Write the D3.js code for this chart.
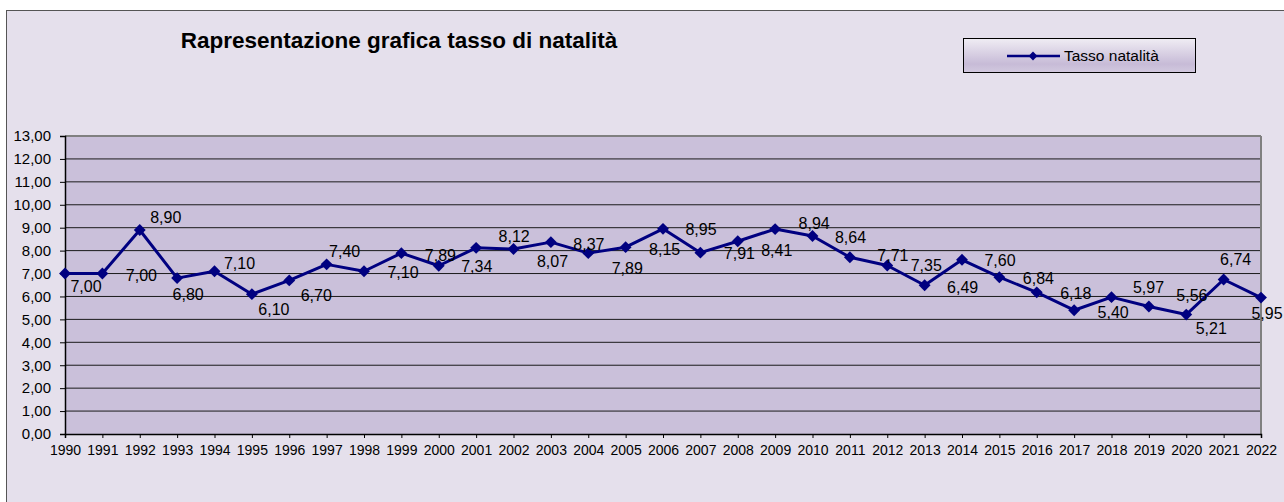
<!DOCTYPE html>
<html>
<head>
<meta charset="utf-8">
<script src="https://cdn.jsdelivr.net/npm/d3@7"></script>
<style>
  body { margin: 0; background: #ffffff; }
  text { font-family: "Liberation Sans", Arial, sans-serif; fill: #000; }
</style>
</head>
<body>
<div id="chart"></div>
<script>
// Data
var years = [1990, 1991, 1992, 1993, 1994, 1995, 1996, 1997, 1998, 1999, 2000,
             2001, 2002, 2003, 2004, 2005, 2006, 2007, 2008, 2009, 2010, 2011,
             2012, 2013, 2014, 2015, 2016, 2017, 2018, 2019, 2020, 2021, 2022];
var tasso = [7.00, 7.00, 8.90, 6.80, 7.10, 6.10, 6.70, 7.40, 7.10, 7.89, 7.34,
             8.12, 8.07, 8.37, 7.89, 8.15, 8.95, 7.91, 8.41, 8.94, 8.64, 7.71,
             7.35, 6.49, 7.60, 6.84, 6.18, 5.40, 5.97, 5.56, 5.21, 6.74, 5.95];
var yTicks = [0, 1, 2, 3, 4, 5, 6, 7, 8, 9, 10, 11, 12, 13];
var seriesName = "Tasso natalità";
var title = "Rapresentazione grafica tasso di natalità";

// Data label offsets (labels were moved by hand in the original sheet)
var labelOffsets = [[21, 13], [39, 2], [26, -13], [11, 16], [25, -8], [22, 15], [27, 15],
                    [18, -13], [39, 1], [39, 2], [38, 1], [38, -11], [39, 12], [38, 2],
                    [39, 15], [39, 2], [38, 1], [39, 1], [39, 9], [39, -6], [38, 1],
                    [43, -2], [39, 0], [38, 2], [38, 1], [39, 1], [39, 1], [39, 2],
                    [37, -10], [43, -11], [25, 14], [12, -20], [6, 16]];

var data = years.map((y, i) => ({ year: y, value: tasso[i], off: labelOffsets[i] }));

// Size
var svgWidth = 1284;
var svgHeight = 502;

var plot = { left: 65, right: 1261, top: 136, bottom: 434 };

var svg = d3.select("#chart")
    .append("svg")
    .attr("width", svgWidth)
    .attr("height", svgHeight);

var defs = svg.append("defs");
var grad = defs.append("linearGradient")
    .attr("id", "legendGrad")
    .attr("x1", 0).attr("y1", 0).attr("x2", 0).attr("y2", 1);
grad.append("stop").attr("offset", "0").attr("stop-color", "#f0edf4");
grad.append("stop").attr("offset", "0.75").attr("stop-color", "#c7bbd7");
grad.append("stop").attr("offset", "1").attr("stop-color", "#d2c9df");

// Chart area
svg.append("rect")
    .attr("x", 6.5).attr("y", 10.5)
    .attr("width", svgWidth + 10).attr("height", svgHeight + 10)
    .attr("fill", "#e5e0ec")
    .attr("stroke", "#555555")
    .attr("stroke-width", 1);

// Scales
var xScale = d3.scalePoint()
    .domain(years)
    .range([plot.left, plot.right]);

var yScale = d3.scaleLinear()
    .domain([0, 13])
    .range([plot.bottom, plot.top]);

// Plot area
svg.append("rect")
    .attr("x", plot.left).attr("y", plot.top)
    .attr("width", plot.right - plot.left)
    .attr("height", plot.bottom - plot.top)
    .attr("fill", "#cac0da");

// Gridlines
svg.append("g")
    .selectAll("line")
    .data(yTicks.filter(d => d > 0 && d < 13))
    .enter()
    .append("line")
    .attr("x1", plot.left).attr("x2", plot.right)
    .attr("y1", d => yScale(d)).attr("y2", d => yScale(d))
    .attr("stroke", "#1a1a1a")
    .attr("stroke-width", 1);

// Top and right border
svg.append("line")
    .attr("x1", plot.left).attr("x2", plot.right)
    .attr("y1", yScale(13)).attr("y2", yScale(13))
    .attr("stroke", "#808080").attr("stroke-width", 2);
svg.append("line")
    .attr("x1", plot.right).attr("x2", plot.right)
    .attr("y1", plot.top).attr("y2", plot.bottom)
    .attr("stroke", "#808080").attr("stroke-width", 2);

// Axes
var leftAxis = d3.axisLeft(yScale)
    .tickValues(yTicks)
    .tickSize(5)
    .tickPadding(9)
    .tickFormat(d => d3.format(".2f")(d).replace(".", ","));

var bottomAxis = d3.axisBottom(xScale)
    .tickSize(4)
    .tickPadding(7);

var yAxisG = svg.append("g")
    .attr("transform", `translate(${plot.left}, 0)`)
    .call(leftAxis);

var xAxisG = svg.append("g")
    .attr("transform", `translate(0, ${plot.bottom})`)
    .call(bottomAxis);

[yAxisG, xAxisG].forEach(g => {
    g.select(".domain").attr("stroke", "#000").attr("stroke-width", 1.5);
    g.selectAll(".tick line").attr("stroke", "#000");
});
yAxisG.selectAll(".tick text")
    .style("font-size", "15px")
    .style("font-family", "Liberation Sans, Arial, sans-serif");
xAxisG.selectAll(".tick text")
    .style("font-size", "14px")
    .style("font-family", "Liberation Sans, Arial, sans-serif");

// Line
var line = d3.line()
    .x(d => xScale(d.year))
    .y(d => yScale(d.value));

svg.append("path")
    .datum(data)
    .attr("d", line)
    .attr("fill", "none")
    .attr("stroke", "#000080")
    .attr("stroke-width", 3)
    .attr("stroke-linejoin", "round");

// Diamond markers
var diamond = d3.symbol().type(d3.symbolDiamond2).size(90);

svg.append("g")
    .selectAll("path")
    .data(data)
    .enter()
    .append("path")
    .attr("d", diamond)
    .attr("transform", d => `translate(${xScale(d.year)}, ${yScale(d.value)})`)
    .attr("fill", "#000080");

// Data labels
svg.append("g")
    .selectAll("text")
    .data(data)
    .enter()
    .append("text")
    .attr("x", d => xScale(d.year) + d.off[0])
    .attr("y", d => yScale(d.value) + d.off[1])
    .attr("dy", "0.35em")
    .attr("text-anchor", "middle")
    .style("font-size", "16px")
    .text(d => d3.format(".2f")(d.value).replace(".", ","));

// Title
svg.append("text")
    .attr("x", 399)
    .attr("y", 48)
    .attr("text-anchor", "middle")
    .style("font-size", "22.5px")
    .style("font-weight", "bold")
    .text(title);

// Legend
var legend = svg.append("g");
legend.append("rect")
    .attr("x", 963.5).attr("y", 38.5)
    .attr("width", 232).attr("height", 34)
    .attr("fill", "url(#legendGrad)")
    .attr("stroke", "#000").attr("stroke-width", 1);
legend.append("line")
    .attr("x1", 1007).attr("x2", 1060)
    .attr("y1", 56).attr("y2", 56)
    .attr("stroke", "#000080").attr("stroke-width", 2.5);
legend.append("path")
    .attr("d", d3.symbol().type(d3.symbolDiamond2).size(50))
    .attr("transform", "translate(1033, 56)")
    .attr("fill", "#000080");
legend.append("text")
    .attr("x", 1064)
    .attr("y", 56)
    .attr("dy", "0.35em")
    .style("font-size", "15.5px")
    .text(seriesName);
</script>
</body>
</html>
